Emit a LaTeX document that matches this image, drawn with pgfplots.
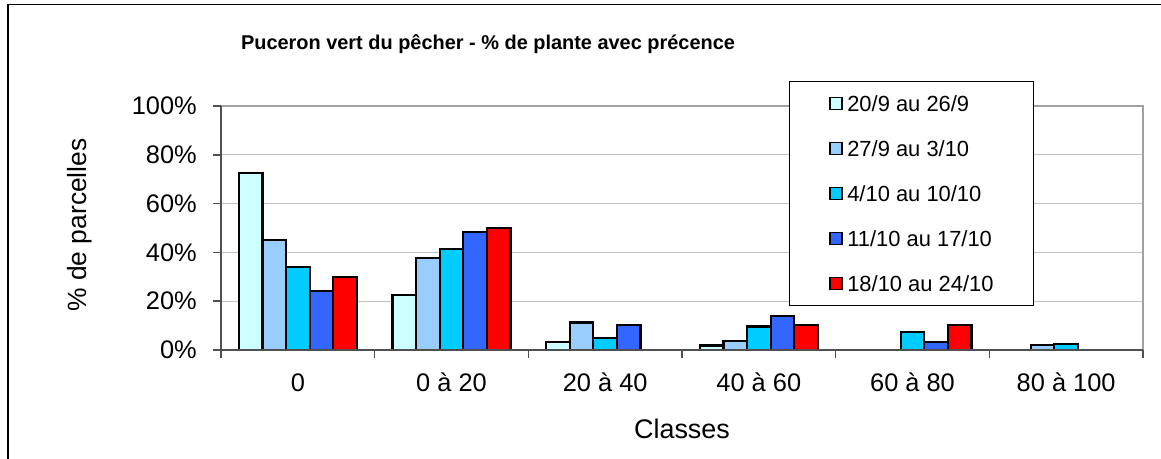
\documentclass[border=0pt]{standalone}
\usepackage{pgfplots}
\pgfplotsset{compat=1.18}
\usepackage{fontspec}
\setmainfont{Liberation Sans}
\definecolor{c1}{HTML}{CCFFFF}
\definecolor{c2}{HTML}{99CCFF}
\definecolor{c3}{HTML}{00CCFF}
\definecolor{c4}{HTML}{3366FF}
\definecolor{c5}{HTML}{FF0000}
\definecolor{gridc}{HTML}{C0C0C0}
\definecolor{boxc}{HTML}{A0A0A0}
\definecolor{axc}{HTML}{505050}
\begin{document}
\begin{tikzpicture}[x=1bp,y=1bp]
\useasboundingbox (0,0) rectangle (1161,459);
\draw[black, line width=1.2bp] (8,-5) -- (8,454.5) -- (1170,454.5);
\begin{axis}[
  at={(221bp,109bp)}, anchor=south west,
  scale only axis, width=922bp, height=244bp,
  ybar=0pt, bar width=23.6bp,
  xmin=-0.5, xmax=5.5, ymin=0, ymax=100,
  xtick={-0.5,0.5,1.5,2.5,3.5,4.5,5.5},
  x tick label as interval,
  xticklabels={0,0 à 20,20 à 40,40 à 60,60 à 80,80 à 100,},
  ytick={0,20,40,60,80,100},
  yticklabels={0\%,20\%,40\%,60\%,80\%,100\%},
  tick align=outside, major tick length=8bp, tick pos=left,
  tick style={axc, line width=1.5bp},
  axis line style={draw=none},
  ymajorgrids, grid style={gridc, line width=1bp},
  xticklabel style={font=\fontsize{25.5}{30}\selectfont, anchor=base, inner sep=0pt, yshift=-34bp},
  yticklabel style={font=\fontsize{25.5}{30}\selectfont, anchor=east, inner sep=0pt, xshift=-16bp},
  title={Puceron vert du pêcher - \% de plante avec précence},
  title style={at={(axis description cs:0.2896,1)}, anchor=base, yshift=51bp, inner sep=0pt,
    font=\bfseries\fontsize{20}{24}\selectfont},
  xlabel={Classes},
  xlabel style={at={(axis description cs:0.5,0)}, anchor=base, yshift=-89bp, inner sep=0pt,
    font=\fontsize{27}{31}\selectfont},
  ylabel={\% de parcelles},
  every axis y label/.style={at={(axis description cs:0,0.5)}, xshift=-134.5bp, yshift=3bp,
    rotate=90, anchor=base, inner sep=0pt, font=\fontsize{26.5}{31}\selectfont},
  legend style={at={(axis description cs:0.616,1.1025)}, anchor=north west, draw=black,
    line width=1bp, fill=white, inner xsep=40bp, inner ysep=12.6bp, row sep=26.0bp,
    font=\fontsize{22}{26}\selectfont,
    nodes={inner sep=0pt, text height=17bp, text depth=2bp}},
  legend cell align=left,
  legend image code/.code={\draw[#1, line width=1.5bp] (0bp,-6bp) rectangle (12bp,6bp); \path (16bp,0bp);},
  after end axis/.code={
    \draw[boxc, line width=2.5bp] (rel axis cs:0,1) -- (rel axis cs:1,1) -- (rel axis cs:1,0);
    \draw[axc, line width=2bp] (rel axis cs:0,1) -- (rel axis cs:0,0) -- (rel axis cs:1,0);
  },
]
\addplot[fill=c1, draw=black, line width=2.2bp] coordinates {(0,72.5) (1,22.7) (2,3.2) (3,1.8)};
\addplot[fill=c2, draw=black, line width=2.2bp] coordinates {(0,45.1) (1,37.6) (2,11.3) (3,3.8) (5,2.0)};
\addplot[fill=c3, draw=black, line width=2.2bp] coordinates {(0,34.1) (1,41.3) (2,4.8) (3,9.6) (4,7.4) (5,2.6)};
\addplot[fill=c4, draw=black, line width=2.2bp] coordinates {(0,24.2) (1,48.2) (2,10.4) (3,13.9) (4,3.3)};
\addplot[fill=c5, draw=black, line width=2.2bp] coordinates {(0,30.0) (1,50.1) (3,10.1) (4,10.1)};
\legend{20/9 au 26/9,27/9 au 3/10,4/10 au 10/10,11/10 au 17/10,18/10 au 24/10}
\end{axis}
\end{tikzpicture}
\end{document}
